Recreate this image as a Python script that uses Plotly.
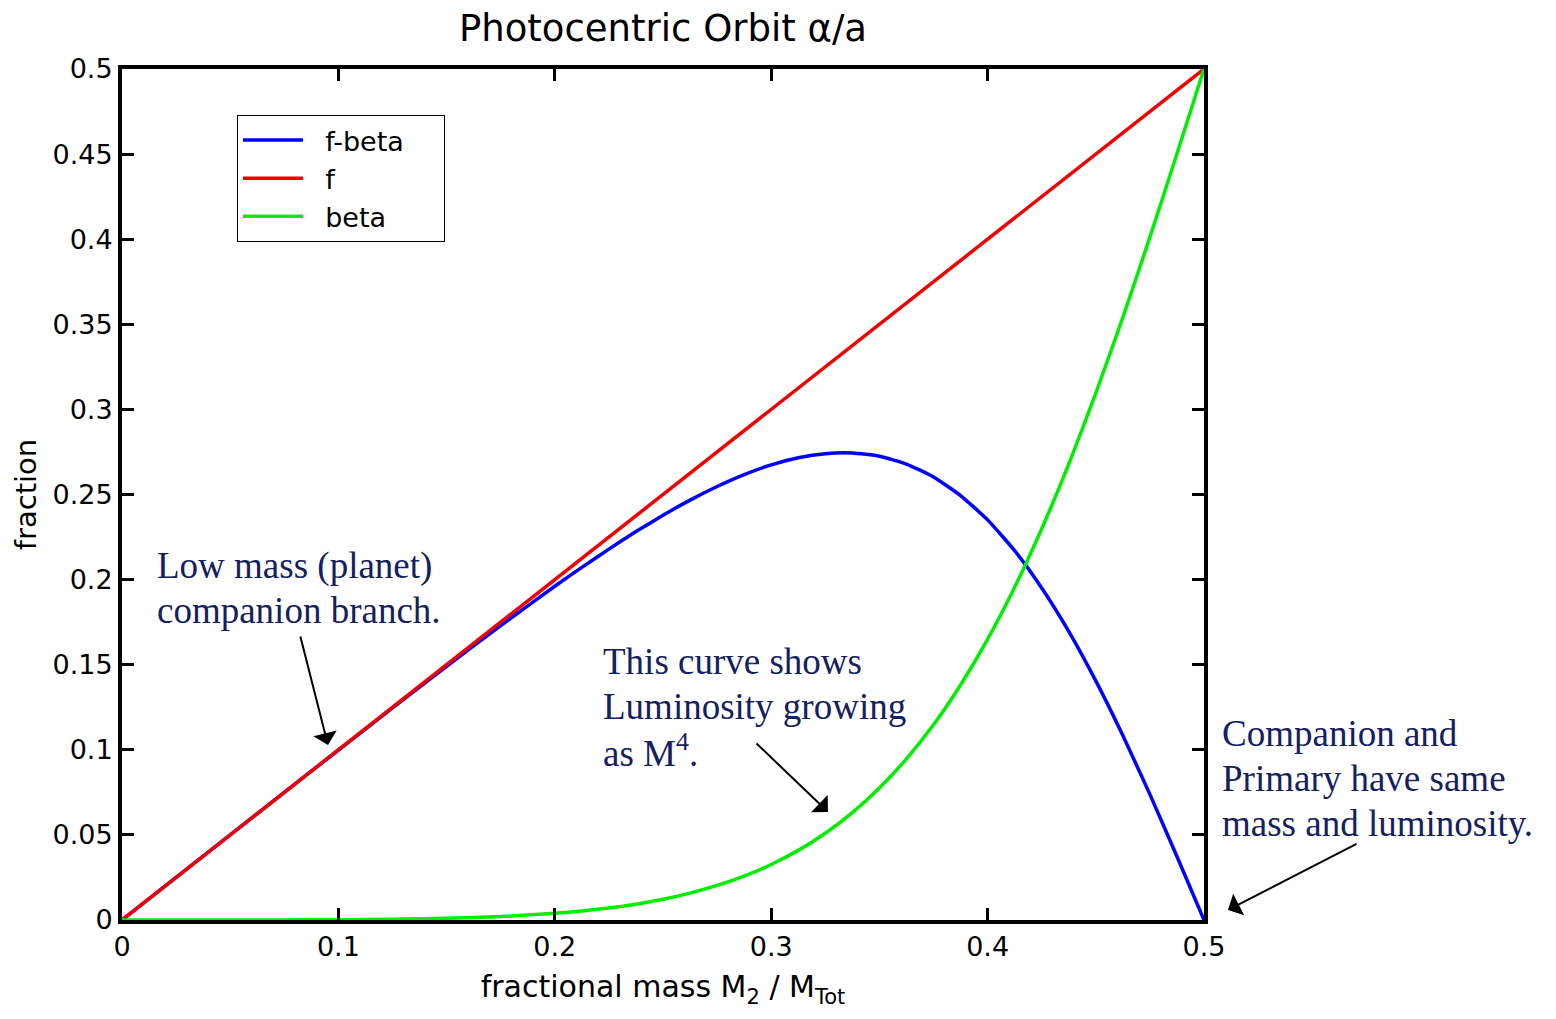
import plotly.graph_objects as go

# fractional mass M2/Mtot
mass = [0.0, 0.025, 0.05, 0.075, 0.1, 0.125, 0.15, 0.175, 0.2, 0.2125, 0.225, 0.2375, 0.25,
        0.2625, 0.275, 0.2875, 0.3, 0.3125, 0.325, 0.3375, 0.35, 0.3625, 0.375, 0.3875,
        0.4, 0.4125, 0.425, 0.4375, 0.45, 0.4625, 0.475, 0.4875, 0.5]
f_vals = [0.0, 0.025, 0.05, 0.075, 0.1, 0.125, 0.15, 0.175, 0.2, 0.2125, 0.225, 0.2375, 0.25,
          0.2625, 0.275, 0.2875, 0.3, 0.3125, 0.325, 0.3375, 0.35, 0.3625, 0.375, 0.3875,
          0.4, 0.4125, 0.425, 0.4375, 0.45, 0.4625, 0.475, 0.4875, 0.5]
beta_vals = [0.0, 0.0, 0.0, 0.00003, 0.00015, 0.0004, 0.001, 0.002, 0.0039, 0.0053, 0.0071,
             0.0093, 0.0122, 0.0158, 0.0203, 0.0258, 0.0326, 0.0409, 0.051, 0.0631, 0.0775,
             0.0947, 0.1147, 0.1381, 0.1649, 0.1955, 0.2299, 0.2679, 0.3095, 0.3541, 0.4012,
             0.4502, 0.5]
fbeta_vals = [0.0, 0.025, 0.05, 0.075, 0.0998, 0.1246, 0.149, 0.173, 0.1961, 0.2072, 0.2179,
              0.2282, 0.2378, 0.2467, 0.2547, 0.2617, 0.2674, 0.2716, 0.274, 0.2744, 0.2725,
              0.2679, 0.2603, 0.2494, 0.2351, 0.217, 0.1951, 0.1696, 0.1405, 0.1084, 0.0738,
              0.0373, 0.0]

x_ticks = [0, 0.1, 0.2, 0.3, 0.4, 0.5]
x_tick_text = ["0", "0.1", "0.2", "0.3", "0.4", "0.5"]
y_ticks = [0, 0.05, 0.1, 0.15, 0.2, 0.25, 0.3, 0.35, 0.4, 0.45, 0.5]
y_tick_text = ["0", "0.05", "0.1", "0.15", "0.2", "0.25", "0.3", "0.35", "0.4", "0.45", "0.5"]

W, H = 1556, 1019
L, R, T, B = 122, 352, 69, 99
PW, PH = W - L - R, H - T - B

def px(x):
    return (x - L) / PW

def py(y):
    return (H - B - y) / PH

fig = go.Figure()
fig.add_trace(go.Scatter(x=mass, y=fbeta_vals, name="\u00a0\u00a0f-beta\u00a0\u00a0\u00a0\u00a0", mode="lines",
                         line=dict(color="#0000ff", width=3.5, shape="spline", smoothing=0.5)))
fig.add_trace(go.Scatter(x=mass, y=f_vals, name="\u00a0\u00a0f", mode="lines",
                         line=dict(color="#f00000", width=3.5)))
fig.add_trace(go.Scatter(x=mass, y=beta_vals, name="\u00a0\u00a0beta", mode="lines",
                         line=dict(color="#00ee00", width=3.5, shape="spline", smoothing=0.5)))

sans = "DejaVu Sans, Arial, sans-serif"
tick_font = dict(family=sans, size=27, color="black")
title_font = dict(family=sans, size=29, color="black")
fig.update_xaxes(range=[0, 0.5], tickvals=x_ticks, ticktext=x_tick_text,
                 ticks="inside", ticklen=12, tickwidth=3, tickcolor="black",
                 showline=True, linewidth=4, linecolor="black", mirror="ticks",
                 showgrid=False, zeroline=False, tickfont=tick_font,
                 title=dict(text="fractional mass M<sub>2</sub> / M<sub>Tot</sub>",
                            font=dict(family=sans, size=30, color="black"), standoff=16))
fig.update_yaxes(range=[0, 0.5], tickvals=y_ticks, ticktext=y_tick_text,
                 ticks="inside", ticklen=12, tickwidth=3, tickcolor="black",
                 showline=True, linewidth=4, linecolor="black", mirror="ticks",
                 showgrid=False, zeroline=False, tickfont=tick_font,
                 title=dict(text="fraction", font=title_font, standoff=8))

navy = "#142060"
serif = dict(family="Liberation Serif, Times New Roman, serif", size=37, color=navy)
anns = []
# each annotation line: text, left px, centre-y px
text_lines = [
    ("Low mass (planet)", 157, 566),
    ("companion branch.", 157, 610),
    ("This curve shows", 603, 661),
    ("Luminosity growing", 603, 706),
    ("as M<sup>4</sup>.", 603, 750),
    ("Companion and", 1222, 733),
    ("Primary have same", 1222, 778),
    ("mass and luminosity.", 1222, 823),
]
for t, x0, y0 in text_lines:
    anns.append(dict(text=t, xref="paper", yref="paper", x=px(x0 - 2), y=py(y0),
                     xanchor="left", yanchor="middle", align="left", showarrow=False,
                     font=serif))
arrows = [
    (328, 745, 300, 635),
    (828, 812, 755, 742),
    (1228, 910, 1358, 843),
]
for hx, hy, tx, ty in arrows:
    anns.append(dict(text="", xref="paper", yref="paper", x=px(hx), y=py(hy),
                     ax=tx - hx, ay=ty - hy, showarrow=True, arrowhead=1,
                     arrowsize=2, arrowwidth=2, arrowcolor="black"))

fig.update_layout(
    width=W, height=H,
    margin=dict(l=L, r=R, t=T, b=B),
    paper_bgcolor="white", plot_bgcolor="white",
    title=dict(text="Photocentric Orbit \u03b1/a", x=663 / W, xanchor="center",
               y=1 - 28 / H, yanchor="middle",
               font=dict(family=sans, size=37, color="black")),
    legend=dict(x=px(237), y=py(115), xanchor="left", yanchor="top",
                bordercolor="black", borderwidth=1, bgcolor="white",
                font=dict(family=sans, size=27, color="black"),
                itemwidth=60, tracegroupgap=0),
    annotations=anns,
    showlegend=True,
)

fig.write_html("out.html")
